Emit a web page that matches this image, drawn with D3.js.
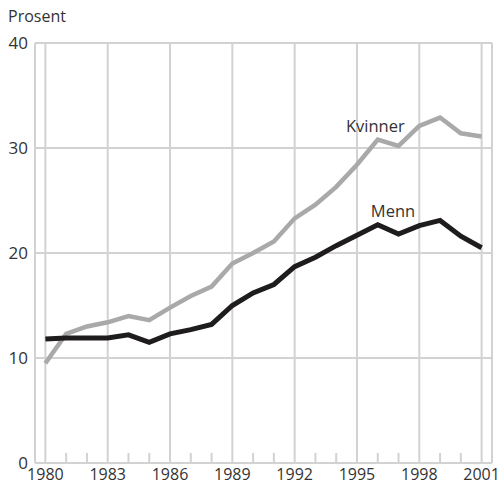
<!DOCTYPE html>
<html>
<head>
<meta charset="utf-8">
<script src="https://cdn.jsdelivr.net/npm/d3@7"></script>
<style>
  body { margin: 0; background: #fff; }
  text { font-family: "Open Sans", "Noto Sans", sans-serif; fill: #333; }
</style>
</head>
<body>
<svg id="chart" width="502" height="485"></svg>
<script>
// data
var years = d3.range(1980, 2002);
var kvinner = [9.5, 12.3, 13.0, 13.4, 14.0, 13.6, 14.8, 15.9, 16.8, 19.0, 20.0, 21.1,
               23.3, 24.6, 26.3, 28.4, 30.8, 30.2, 32.1, 32.9, 31.4, 31.1];
var menn = [11.8, 11.9, 11.9, 11.9, 12.2, 11.5, 12.3, 12.7, 13.2, 15.0, 16.2, 17.0,
            18.7, 19.6, 20.7, 21.7, 22.7, 21.8, 22.6, 23.1, 21.6, 20.5];
var yTicks = [0, 10, 20, 30, 40];
var xTicks = [1980, 1983, 1986, 1989, 1992, 1995, 1998, 2001];

var svg = d3.select("#chart");
var gridColor = "#d2d2d2";

var x = d3.scaleLinear().domain([1979.5, 2001.5]).range([35, 492]);
var y = d3.scaleLinear().domain([0, 40]).range([463, 43]);

// grid
svg.append("g").selectAll("line.h")
    .data(yTicks.slice(1))
    .join("line")
    .attr("x1", x(1979.5)).attr("x2", x(2001.5))
    .attr("y1", function (d) { return y(d); })
    .attr("y2", function (d) { return y(d); })
    .attr("stroke", gridColor).attr("stroke-width", 2);

svg.append("g").selectAll("line.v")
    .data(xTicks)
    .join("line")
    .attr("x1", function (d) { return x(d); })
    .attr("x2", function (d) { return x(d); })
    .attr("y1", y(0)).attr("y2", y(40))
    .attr("stroke", gridColor).attr("stroke-width", 2);

// minor year ticks
svg.append("g").selectAll("line")
    .data(years.filter(function (d) { return xTicks.indexOf(d) < 0; }))
    .join("line")
    .attr("x1", function (d) { return x(d); })
    .attr("x2", function (d) { return x(d); })
    .attr("y1", y(0)).attr("y2", y(0) - 10)
    .attr("stroke", gridColor).attr("stroke-width", 2);

// frame: left, right, bottom
[[x(1979.5), y(0), x(1979.5), y(40)],
 [x(2001.5), y(0), x(2001.5), y(40)],
 [x(1979.5), y(0), x(2001.5), y(0)]].forEach(function (l) {
    svg.append("line")
        .attr("x1", l[0]).attr("y1", l[1]).attr("x2", l[2]).attr("y2", l[3])
        .attr("stroke", gridColor).attr("stroke-width", 2);
});

// axis labels
svg.append("g").selectAll("text")
    .data(yTicks)
    .join("text")
    .attr("x", 28)
    .attr("y", function (d) { return y(d) + 6; })
    .attr("text-anchor", "end")
    .style("font-size", "17px")
    .text(function (d) { return d; });

svg.append("g").selectAll("text")
    .data(xTicks)
    .join("text")
    .attr("x", function (d) { return x(d); })
    .attr("y", 480)
    .attr("text-anchor", "middle")
    .style("font-size", "16px")
    .text(function (d) { return d; });

svg.append("text")
    .attr("x", 8).attr("y", 22)
    .style("font-size", "16px")
    .text("Prosent");

// lines
var line = d3.line()
    .x(function (d, i) { return x(years[i]); })
    .y(function (d) { return y(d); });

svg.append("path")
    .attr("fill", "none")
    .attr("stroke", "#a9a9a9")
    .attr("stroke-width", 4.5)
    .attr("d", line(kvinner));

svg.append("path")
    .attr("fill", "none")
    .attr("stroke", "#1e1c1c")
    .attr("stroke-width", 5)
    .attr("d", line(menn));

// series labels
svg.append("text")
    .attr("x", x(1997.3)).attr("y", y(31.5))
    .attr("text-anchor", "end")
    .style("font-size", "16.5px")
    .text("Kvinner");

svg.append("text")
    .attr("x", x(1997.8)).attr("y", y(23.4))
    .attr("text-anchor", "end")
    .style("font-size", "16.5px")
    .text("Menn");
</script>
</body>
</html>
